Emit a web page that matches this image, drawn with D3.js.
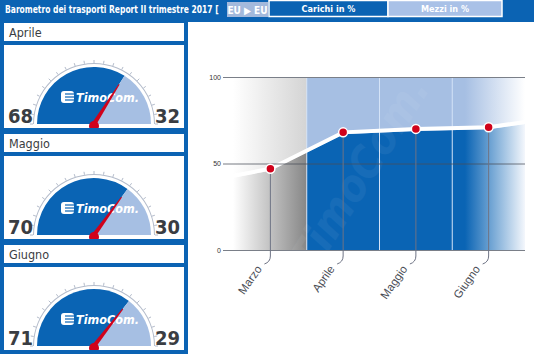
<!DOCTYPE html>
<html>
<head>
<meta charset="utf-8">
<script src="https://cdn.jsdelivr.net/npm/d3@7"></script>
<style>
  body { margin: 0; background: #fff; }
  svg { display: block; }
  text { font-family: "DejaVu Sans Condensed", "DejaVu Sans", sans-serif; }
</style>
</head>
<body>
<svg width="534" height="354"></svg>
<script>
// data
let gaugeMonths = ["Aprile", "Maggio", "Giugno"];
let carichi = [68, 70, 71];
let mezzi = [32, 30, 29];
let lineMonths = ["Febbraio", "Marzo", "Aprile", "Maggio", "Giugno", "Luglio"];
let lineValues = [39, 47, 68, 70, 71, 77];
let shownMonths = ["Marzo", "Aprile", "Maggio", "Giugno"];
let yTicks = [0, 50, 100];

let blue = "#0b63b3";
let darkBlue = "#0a64b4";
let lightBlue = "#a6bfe3";
let red = "#d0021b";

let svg = d3.select("svg");
let width = +svg.attr("width");
let height = +svg.attr("height");
let defs = svg.append("defs");

// frame
svg.append("rect").attr("width", width).attr("height", height).attr("fill", blue);

// header
let title = svg.append("text")
  .attr("fill", "#fff").attr("font-weight", "bold").attr("font-size", 10)
  .text("Barometro dei trasporti Report II trimestre 2017  [");
let tw = title.node().getComputedTextLength();
title.attr("transform", "translate(5,13) scale(" + (214 / tw) + ",1)");

svg.append("rect").attr("x", 227).attr("y", 2).attr("width", 41).attr("height", 15)
  .attr("fill", "#a3b9dc");
svg.append("text").attr("x", 247.5).attr("y", 13.5).attr("text-anchor", "middle")
  .attr("fill", "#fff").attr("font-weight", "bold").attr("font-size", 10)
  .text("EU \u25B6 EU");

let tabs = [
  { label: "Carichi in %", x: 269, w: 119, fill: blue },
  { label: "Mezzi in %", x: 388, w: 114, fill: "#a9c1e7" }
];
tabs.forEach(t => {
  svg.append("rect").attr("x", t.x).attr("y", 0.5).attr("width", t.w).attr("height", 16)
    .attr("fill", t.fill).attr("stroke", "#fff").attr("stroke-width", 1.5);
  svg.append("text").attr("x", t.x + t.w / 2).attr("y", 12).attr("text-anchor", "middle")
    .attr("fill", "#fff").attr("font-weight", "bold").attr("font-size", 9)
    .text(t.label);
});

// gauges
let period = 111;
let arc = d3.arc();
gaugeMonths.forEach((m, i) => {
  let top = 23 + i * period;
  svg.append("rect").attr("x", 4).attr("y", top).attr("width", 180).attr("height", 18).attr("fill", "#fff");
  svg.append("text").attr("x", 9).attr("y", top + 14).attr("font-size", 12.5).attr("fill", "#3a3d42").text(m);

  let boxTop = top + 22;
  let boxH = Math.min(83, height - boxTop);
  defs.append("clipPath").attr("id", "gclip" + i)
    .append("rect").attr("x", 4).attr("y", boxTop).attr("width", 180).attr("height", boxH);
  let g = svg.append("g").attr("clip-path", "url(#gclip" + i + ")");
  g.append("rect").attr("x", 4).attr("y", boxTop).attr("width", 180).attr("height", boxH).attr("fill", "#fff");

  let cx = 94, cy = boxTop + 79, r = 57;
  let ang = d3.scaleLinear().domain([0, 100]).range([-Math.PI / 2, Math.PI / 2]);
  let gg = g.append("g").attr("transform", "translate(" + cx + "," + cy + ")");

  // scale ring + ticks
  gg.append("path")
    .attr("d", arc({ innerRadius: 60, outerRadius: 61, startAngle: -Math.PI / 2, endAngle: Math.PI / 2 }))
    .attr("fill", "#b4bccb");
  d3.range(0, 101, 5).forEach(v => {
    let a = ang(v);
    gg.append("line")
      .attr("x1", 61 * Math.sin(a)).attr("y1", -61 * Math.cos(a))
      .attr("x2", 64 * Math.sin(a)).attr("y2", -64 * Math.cos(a))
      .attr("stroke", "#b4bccb").attr("stroke-width", 1);
  });

  gg.append("path")
    .attr("d", arc({ innerRadius: 0, outerRadius: r, startAngle: ang(0), endAngle: ang(carichi[i]) }))
    .attr("fill", darkBlue);
  gg.append("path")
    .attr("d", arc({ innerRadius: 0, outerRadius: r, startAngle: ang(carichi[i]), endAngle: ang(100) }))
    .attr("fill", lightBlue);

  // logo
  let logo = gg.append("g").attr("transform", "translate(-33,-27)");
  logo.append("rect").attr("x", 0).attr("y", -6).attr("width", 13).attr("height", 12).attr("rx", 3).attr("fill", "#fff");
  [-3, 0, 3].forEach(dy => logo.append("line")
    .attr("x1", 4).attr("x2", 13).attr("y1", dy).attr("y2", dy)
    .attr("stroke", darkBlue).attr("stroke-width", 1.2));
  logo.append("text").attr("x", 15).attr("y", 5).attr("fill", "#fff")
    .attr("font-weight", "bold").attr("font-style", "italic").attr("font-size", 12.5)
    .text("TimoCom.");

  // needle
  gg.append("path")
    .attr("d", "M-2.2,0 L-0.5,-47 L0.5,-47 L2.2,0 Z")
    .attr("transform", "rotate(" + (ang(carichi[i]) * 180 / Math.PI) + ")")
    .attr("fill", red);
  gg.append("circle").attr("r", 5).attr("cy", 2).attr("fill", red);

  g.append("text").attr("x", 8).attr("y", cy - 1).attr("font-size", 20).attr("font-weight", "bold")
    .attr("fill", "#3a3d42").text(carichi[i]);
  g.append("text").attr("x", 180).attr("y", cy - 1).attr("text-anchor", "end").attr("font-size", 20)
    .attr("font-weight", "bold").attr("fill", "#3a3d42").text(mezzi[i]);
});

// line chart panel
svg.append("rect").attr("x", 188).attr("y", 22).attr("width", width - 188).attr("height", height - 22).attr("fill", "#fff");

let x0 = 223, x1 = 525;
let x = d3.scaleBand().domain(lineMonths).range([161.25, 597.75]);
let y = d3.scaleLinear().domain([0, 100]).range([250, 77]);
let cxm = d => x(d) + x.bandwidth() / 2;
let edge = x("Aprile");
let fadeStart = 465;
let off = v => (v - x0) / (x1 - x0);

let gUp = defs.append("linearGradient").attr("id", "gUp")
  .attr("gradientUnits", "userSpaceOnUse").attr("x1", x0).attr("x2", x1).attr("y1", 0).attr("y2", 0);
[[0, "#fff"], [off(233), "#fff"], [off(edge), "#d4d4d4"], [off(edge), lightBlue], [off(fadeStart), lightBlue], [1, "#fff"]]
  .forEach(s => gUp.append("stop").attr("offset", s[0]).attr("stop-color", s[1]));
let gDown = defs.append("linearGradient").attr("id", "gDown")
  .attr("gradientUnits", "userSpaceOnUse").attr("x1", x0).attr("x2", x1).attr("y1", 0).attr("y2", 0);
[[0, "#fff"], [off(233), "#fff"], [off(edge), "#868686"], [off(edge), darkBlue], [off(fadeStart), darkBlue], [1, "#f4f7fc"]]
  .forEach(s => gDown.append("stop").attr("offset", s[0]).attr("stop-color", s[1]));

defs.append("clipPath").attr("id", "plotclip")
  .append("rect").attr("x", x0).attr("y", y(100)).attr("width", x1 - x0).attr("height", y(0) - y(100));

let plot = svg.append("g").attr("clip-path", "url(#plotclip)");
plot.append("rect").attr("x", x0).attr("y", y(100)).attr("width", x1 - x0).attr("height", y(0) - y(100))
  .attr("fill", "url(#gUp)");

let pts = lineMonths.map((m, i) => [cxm(m), lineValues[i]]);
plot.append("path")
  .datum(pts)
  .attr("d", d3.area().x(d => d[0]).y0(y(0)).y1(d => y(d[1]) + 2))
  .attr("fill", "url(#gDown)");

// band separators
shownMonths.slice(1).forEach(m => {
  plot.append("line").attr("x1", x(m)).attr("x2", x(m)).attr("y1", y(100)).attr("y2", y(0))
    .attr("stroke", "#d4e3f7").attr("stroke-width", 1);
});

// watermark
plot.append("text")
  .attr("transform", "translate(372,182) rotate(-58)")
  .attr("text-anchor", "middle").attr("font-size", 44).attr("font-weight", "bold").attr("font-style", "italic")
  .attr("fill", "#fff").attr("opacity", 0.05)
  .text("TimoCom.");

// y axis and grid
let yAxis = svg.append("g").attr("transform", "translate(" + x0 + ",0)")
  .call(d3.axisLeft(y).tickValues(yTicks).tickSize(-(x1 - x0)).tickPadding(2));
yAxis.select(".domain").remove();
yAxis.selectAll(".tick line")
  .attr("stroke", (d) => d === 50 ? "#4a4f5a" : "#7a7f88")
  .attr("stroke-opacity", (d) => d === 50 ? 0.75 : 1);
yAxis.selectAll(".tick text").attr("font-size", 7).attr("fill", "#333")
  .style("font-family", "'Liberation Sans', Arial, sans-serif");

// drop lines and labels
shownMonths.forEach(m => {
  let i = lineMonths.indexOf(m);
  let px = cxm(m), py = y(lineValues[i]);
  svg.append("path")
    .attr("d", "M" + px + "," + py + " V" + (y(0) + 6) + " Q" + px + "," + (y(0) + 12) + " " + (px - 6) + "," + (y(0) + 14))
    .attr("fill", "none").attr("stroke", "#6e7384").attr("stroke-width", 1);
  svg.append("text")
    .attr("transform", "translate(" + (px - 8) + "," + (y(0) + 19) + ") rotate(-55)")
    .attr("text-anchor", "end").attr("font-size", 11.5).attr("fill", "#4a4d55")
    .style("font-family", "'Liberation Sans', Arial, sans-serif")
    .text(m);
});

// line
plot.append("path")
  .datum(pts)
  .attr("d", d3.line().x(d => d[0]).y(d => y(d[1])))
  .attr("fill", "none").attr("stroke", "#fff").attr("stroke-width", 4);

// points
svg.selectAll(".pt")
  .data(shownMonths)
  .enter()
  .append("circle")
  .attr("cx", d => cxm(d))
  .attr("cy", d => y(lineValues[lineMonths.indexOf(d)]))
  .attr("r", 4.5)
  .attr("fill", red)
  .attr("stroke", "#fff")
  .attr("stroke-width", 1.5);
</script>
</body>
</html>
